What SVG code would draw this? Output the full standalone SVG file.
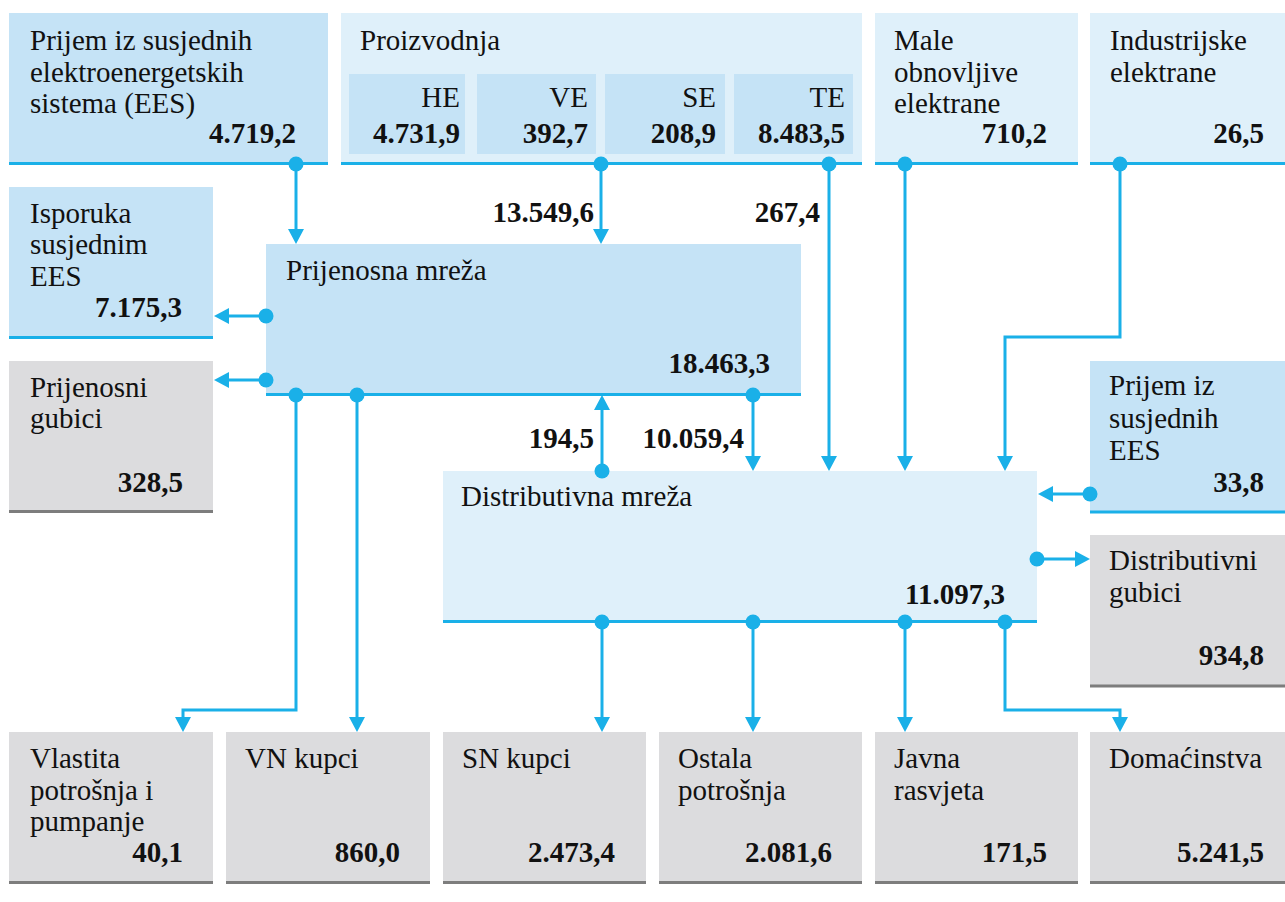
<svg xmlns="http://www.w3.org/2000/svg" width="1285" height="902" viewBox="0 0 1285 902">
<defs>
<circle id="dot" r="7.5" fill="#1ab0e8"/>
<path id="ad" d="M-8,-15 L8,-15 L0,0 z" fill="#1ab0e8"/>
</defs>

<g font-family="Liberation Serif" font-size="29" fill="#111">

<g id="prijem-ees">
<rect fill="#c5e3f6" x="9" y="13" width="319" height="151"/>
<line stroke="#1ab0e8" stroke-width="3" x1="9" y1="163.5" x2="328" y2="163.5"/>
<text x="30" y="50">Prijem iz susjednih</text>
<text x="30" y="82">elektroenergetskih</text>
<text x="30" y="113">sistema (EES)</text>
<text font-weight="bold" text-anchor="end" x="296" y="143">4.719,2</text>
</g>

<g id="proizvodnja">
<rect fill="#dff0fa" x="341" y="13" width="521" height="151"/>
<line stroke="#1ab0e8" stroke-width="3" x1="341" y1="163.5" x2="862" y2="163.5"/>
<text x="360" y="50">Proizvodnja</text>
<g fill="#c5e3f6">
<rect x="349" y="74" width="116" height="80"/>
<rect x="477" y="74" width="119" height="80"/>
<rect x="605" y="74" width="120" height="80"/>
<rect x="734" y="74" width="119" height="80"/>
</g>
<g text-anchor="end">
<text x="460" y="107">HE</text>
<text font-weight="bold" x="460" y="143">4.731,9</text>
<text x="588" y="107">VE</text>
<text font-weight="bold" x="588" y="143">392,7</text>
<text x="716" y="107">SE</text>
<text font-weight="bold" x="716" y="143">208,9</text>
<text x="845" y="107">TE</text>
<text font-weight="bold" x="845" y="143">8.483,5</text>
</g>
</g>

<g id="male-obnovljive">
<rect fill="#dff0fa" x="875" y="13" width="203" height="151"/>
<line stroke="#1ab0e8" stroke-width="3" x1="875" y1="163.5" x2="1078" y2="163.5"/>
<text x="894" y="50">Male</text>
<text x="894" y="82">obnovljive</text>
<text x="894" y="113">elektrane</text>
<text font-weight="bold" text-anchor="end" x="1047" y="143">710,2</text>
</g>

<g id="industrijske">
<rect fill="#dff0fa" x="1090" y="13" width="195" height="151"/>
<line stroke="#1ab0e8" stroke-width="3" x1="1090" y1="163.5" x2="1285" y2="163.5"/>
<text x="1110" y="50">Industrijske</text>
<text x="1110" y="82">elektrane</text>
<text font-weight="bold" text-anchor="end" x="1264" y="143">26,5</text>
</g>

<g id="isporuka">
<rect fill="#c5e3f6" x="9" y="187" width="204" height="151"/>
<line stroke="#1ab0e8" stroke-width="3" x1="9" y1="337.5" x2="213" y2="337.5"/>
<text x="30" y="223">Isporuka</text>
<text x="30" y="254">susjednim</text>
<text x="30" y="286">EES</text>
<text font-weight="bold" text-anchor="end" x="182" y="317">7.175,3</text>
</g>

<g id="prijenosni-gubici">
<rect fill="#dcdcde" x="9" y="361" width="204" height="151"/>
<line stroke="#7d7d7d" stroke-width="3" x1="9" y1="511.5" x2="213" y2="511.5"/>
<text x="30" y="397">Prijenosni</text>
<text x="30" y="428">gubici</text>
<text font-weight="bold" text-anchor="end" x="183" y="492">328,5</text>
</g>

<g id="prijenosna-mreza">
<rect fill="#c5e3f6" x="266" y="244" width="535" height="151"/>
<line stroke="#1ab0e8" stroke-width="3" x1="266" y1="394.5" x2="801" y2="394.5"/>
<text x="286" y="280">Prijenosna mreža</text>
<text font-weight="bold" text-anchor="end" x="770" y="373">18.463,3</text>
</g>

<g id="distributivna-mreza">
<rect fill="#dff0fa" x="443" y="471" width="594" height="151"/>
<line stroke="#1ab0e8" stroke-width="3" x1="443" y1="621.5" x2="1037" y2="621.5"/>
<text x="461" y="506">Distributivna mreža</text>
<text font-weight="bold" text-anchor="end" x="1005" y="604">11.097,3</text>
</g>

<g id="prijem-susjednih">
<rect fill="#c5e3f6" x="1090" y="361" width="195" height="151"/>
<line stroke="#1ab0e8" stroke-width="3" x1="1090" y1="512" x2="1285" y2="512"/>
<text x="1109" y="395">Prijem iz</text>
<text x="1109" y="428">susjednih</text>
<text x="1109" y="460">EES</text>
<text font-weight="bold" text-anchor="end" x="1264" y="492">33,8</text>
</g>

<g id="distributivni-gubici">
<rect fill="#dcdcde" x="1090" y="535" width="195" height="151"/>
<line stroke="#7d7d7d" stroke-width="3" x1="1090" y1="686" x2="1285" y2="686"/>
<text x="1109" y="570">Distributivni</text>
<text x="1109" y="602">gubici</text>
<text font-weight="bold" text-anchor="end" x="1264" y="665">934,8</text>
</g>

<g id="vlastita">
<rect fill="#dcdcde" x="9" y="732" width="204" height="151"/>
<line stroke="#7d7d7d" stroke-width="3" x1="9" y1="882.5" x2="213" y2="882.5"/>
<text x="30" y="768">Vlastita</text>
<text x="30" y="800">potrošnja i</text>
<text x="30" y="831">pumpanje</text>
<text font-weight="bold" text-anchor="end" x="183" y="862">40,1</text>
</g>

<g id="vn-kupci">
<rect fill="#dcdcde" x="226" y="732" width="204" height="151"/>
<line stroke="#7d7d7d" stroke-width="3" x1="226" y1="882.5" x2="430" y2="882.5"/>
<text x="245" y="768">VN kupci</text>
<text font-weight="bold" text-anchor="end" x="400" y="862">860,0</text>
</g>

<g id="sn-kupci">
<rect fill="#dcdcde" x="443" y="732" width="203" height="151"/>
<line stroke="#7d7d7d" stroke-width="3" x1="443" y1="882.5" x2="646" y2="882.5"/>
<text x="462" y="768">SN kupci</text>
<text font-weight="bold" text-anchor="end" x="615" y="862">2.473,4</text>
</g>

<g id="ostala">
<rect fill="#dcdcde" x="659" y="732" width="203" height="151"/>
<line stroke="#7d7d7d" stroke-width="3" x1="659" y1="882.5" x2="862" y2="882.5"/>
<text x="678" y="768">Ostala</text>
<text x="678" y="800">potrošnja</text>
<text font-weight="bold" text-anchor="end" x="832" y="862">2.081,6</text>
</g>

<g id="javna">
<rect fill="#dcdcde" x="875" y="732" width="203" height="151"/>
<line stroke="#7d7d7d" stroke-width="3" x1="875" y1="882.5" x2="1078" y2="882.5"/>
<text x="894" y="768">Javna</text>
<text x="894" y="800">rasvjeta</text>
<text font-weight="bold" text-anchor="end" x="1047" y="862">171,5</text>
</g>

<g id="domacinstva">
<rect fill="#dcdcde" x="1090" y="732" width="195" height="151"/>
<line stroke="#7d7d7d" stroke-width="3" x1="1090" y1="882.5" x2="1285" y2="882.5"/>
<text x="1109" y="768">Domaćinstva</text>
<text font-weight="bold" text-anchor="end" x="1264" y="862">5.241,5</text>
</g>

<g id="connectors">
<g fill="none" stroke="#1ab0e8" stroke-width="3">
<path d="M296,164 V232"/>
<path d="M601,164 V232"/>
<path d="M829,164 V459"/>
<path d="M905,164 V459"/>
<path d="M1120,164 V337 H1005 V459"/>
<path d="M266,316 H226"/>
<path d="M266,380 H226"/>
<path d="M296,395 V710 H183 V720"/>
<path d="M357,395 V720"/>
<path d="M602,471 V407"/>
<path d="M753,395 V459"/>
<path d="M1090,494 H1050"/>
<path d="M1037,559 H1078"/>
<path d="M602,622 V720"/>
<path d="M753,622 V720"/>
<path d="M905,622 V720"/>
<path d="M1005,622 V710 H1120 V720"/>
</g>
<use href="#dot" x="296" y="164"/>
<use href="#dot" x="601" y="164"/>
<use href="#dot" x="829" y="164"/>
<use href="#dot" x="905" y="164"/>
<use href="#dot" x="1120" y="164"/>
<use href="#dot" x="266" y="316"/>
<use href="#dot" x="266" y="380"/>
<use href="#dot" x="296" y="395"/>
<use href="#dot" x="357" y="395"/>
<use href="#dot" x="602" y="471"/>
<use href="#dot" x="753" y="395"/>
<use href="#dot" x="1090" y="494"/>
<use href="#dot" x="1037" y="559"/>
<use href="#dot" x="602" y="622"/>
<use href="#dot" x="753" y="622"/>
<use href="#dot" x="905" y="622"/>
<use href="#dot" x="1005" y="622"/>
<use href="#ad" transform="translate(296,244)"/>
<use href="#ad" transform="translate(601,244)"/>
<use href="#ad" transform="translate(829,471)"/>
<use href="#ad" transform="translate(905,471)"/>
<use href="#ad" transform="translate(1005,471)"/>
<use href="#ad" transform="translate(214,316) rotate(90)"/>
<use href="#ad" transform="translate(214,380) rotate(90)"/>
<use href="#ad" transform="translate(183,732)"/>
<use href="#ad" transform="translate(357,732)"/>
<use href="#ad" transform="translate(602,395) rotate(180)"/>
<use href="#ad" transform="translate(753,471)"/>
<use href="#ad" transform="translate(1038,494) rotate(90)"/>
<use href="#ad" transform="translate(1090,559) rotate(-90)"/>
<use href="#ad" transform="translate(602,732)"/>
<use href="#ad" transform="translate(753,732)"/>
<use href="#ad" transform="translate(905,732)"/>
<use href="#ad" transform="translate(1120,732)"/>
<g font-weight="bold" text-anchor="end">
<text x="594" y="222">13.549,6</text>
<text x="820" y="222">267,4</text>
<text x="594" y="448">194,5</text>
<text x="744" y="448">10.059,4</text>
</g>
</g>

</g>
</svg>
